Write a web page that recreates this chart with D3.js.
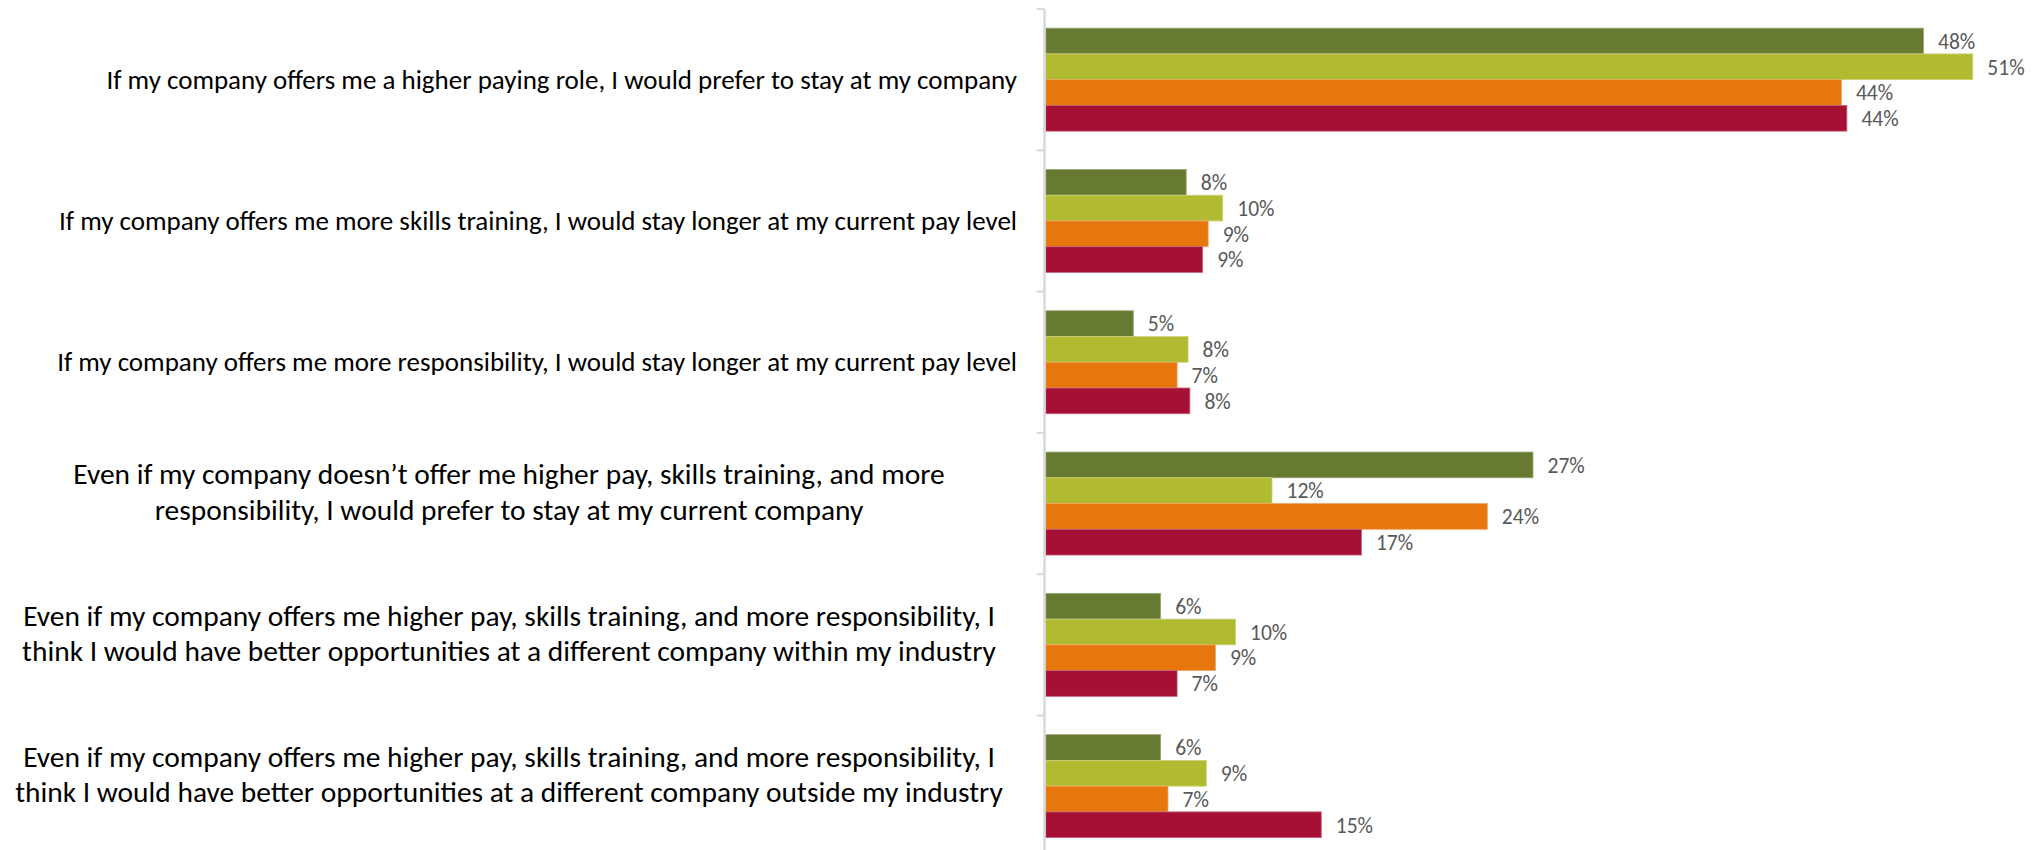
<!DOCTYPE html>
<html><head><meta charset="utf-8">
<script src="https://cdn.jsdelivr.net/npm/d3@7"></script>
<style>html,body{margin:0;padding:0;background:#fff;} svg{display:block;}</style>
</head><body><svg id="chart" width="2039" height="850"></svg>
<script>
// ---- data ----
const categories = [
  "If my company offers me a higher paying role, I would prefer to stay at my company",
  "If my company offers me more skills training, I would stay longer at my current pay level",
  "If my company offers me more responsibility, I would stay longer at my current pay level",
  "Even if my company doesn\u2019t offer me higher pay, skills training, and more\nresponsibility, I would prefer to stay at my current company",
  "Even if my company offers me higher pay, skills training, and more responsibility, I\nthink I would have better opportunities at a different company within my industry",
  "Even if my company offers me higher pay, skills training, and more responsibility, I\nthink I would have better opportunities at a different company outside my industry"
];
const seriesNames = ["Series 1", "Series 2", "Series 3", "Series 4"];
const series1 = [48.1, 7.7, 4.8, 26.7, 6.3, 6.3];
const series2 = [50.8, 9.7, 7.8, 12.4, 10.4, 8.8];
const series3 = [43.6, 8.9, 7.2, 24.2, 9.3, 6.7];
const series4 = [43.9, 8.6, 7.9, 17.3, 7.2, 15.1];
const seriesColors = ["#667a32", "#b0bb32", "#e7760c", "#a51034"];

const seriesValues = [series1, series2, series3, series4];
const rows = [];
categories.forEach((c, i) => seriesNames.forEach((s, j) => rows.push({cat: c, series: s, value: seriesValues[j][i], color: seriesColors[j]})));

// ---- layout ----
const W = 2039, H = 850;
const axisX = 1044.5;
const plotTop = 9, step = 141.3;
const svg = d3.select("#chart");
svg.append("rect").attr("width", W).attr("height", H).attr("fill", "#fff");

const y = d3.scaleBand().domain(categories).range([plotTop, plotTop + step * categories.length]).padding(0);
const ySub = d3.scaleBand().domain(seriesNames).range([0, y.bandwidth()]).paddingInner(0).paddingOuter(0.744);
const x = d3.scaleLinear().domain([0, 54]).range([axisX + 1.2, axisX + 1.2 + 54 * 18.25]);

const FONT = "Carlito, Calibri, Lato, 'Open Sans', sans-serif";

// bars
svg.append("g").selectAll("rect").data(rows).join("rect")
  .attr("x", x(0))
  .attr("y", d => y(d.cat) + ySub(d.series))
  .attr("width", d => x(d.value) - x(0))
  .attr("height", ySub.bandwidth())
  .attr("fill", d => d.color)
  .attr("stroke", d => d3.interpolateRgb(d.color, "#fff")(0.35))
  .attr("stroke-width", 0.8);

// axis line and boundary ticks
const axisG = svg.append("g");
axisG.append("line").attr("x1", axisX).attr("x2", axisX).attr("y1", plotTop).attr("y2", H + 10)
  .attr("stroke", "#d9d9d9").attr("stroke-width", 2.5);
const bounds = categories.map(c => y(c)).concat([y.range()[1]]);
axisG.selectAll("line.tick").data(bounds).join("line").attr("class", "tick")
  .attr("x1", axisX - 8).attr("x2", axisX).attr("y1", d => d).attr("y2", d => d)
  .attr("stroke", "#d9d9d9").attr("stroke-width", 2);

// data labels
const fmt = d => d3.format(".0f")(d) + "%";
const probe = svg.append("text").attr("font-family", FONT).attr("font-size", 21.33).text("10%");
const dlSize = 21.33 * 37.3 / probe.node().getComputedTextLength();
probe.remove();
svg.append("g").selectAll("text").data(rows).join("text")
  .attr("x", d => x(d.value) + 14.5)
  .attr("y", d => y(d.cat) + ySub(d.series) + ySub.bandwidth() / 2)
  .attr("dy", "0.36em")
  .attr("font-family", FONT).attr("font-size", dlSize)
  .attr("fill", "#595959")
  .text(d => fmt(d.value));

// category labels (single-line ones right aligned, wrapped ones centred and slightly larger)
function fitSize(str, base, target) {
  const p = svg.append("text").attr("font-family", FONT).attr("font-size", base).text(str);
  const w = p.node().getComputedTextLength();
  p.remove();
  return base * target / w;
}
const catSize = fitSize(categories[0], 24, 911);
const wrapSize = fitSize(categories[4].split("\n")[0], 26, 972);
const labelRight = 1017, labelCenter = 509, lineGap = 35.3;
const catG = svg.append("g").attr("font-family", FONT).attr("fill", "#000");
categories.forEach(c => {
  const lines = c.split("\n");
  const cy = y(c) + y.bandwidth() / 2;
  const multi = lines.length > 1;
  const t = catG.append("text")
    .attr("text-anchor", multi ? "middle" : "end")
    .attr("font-size", multi ? wrapSize : catSize);
  lines.forEach((ln, k) => {
    const tsp = t.append("tspan").attr("x", multi ? labelCenter : labelRight).text(ln);
    if (multi) {
      tsp.attr("y", cy + (k - (lines.length - 1) / 2) * lineGap - 1.55);
    } else {
      tsp.attr("y", cy).attr("dy", "0.34em");
    }
  });
});
</script>
</body></html>
